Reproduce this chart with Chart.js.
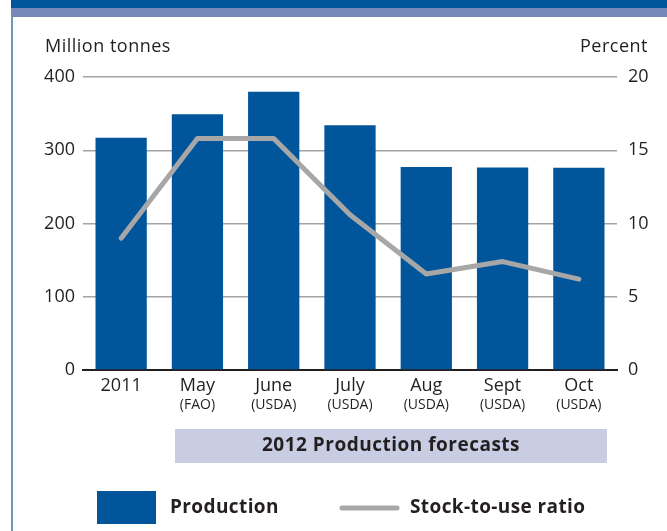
<!DOCTYPE html>
<html>
<head>
<meta charset="utf-8">
<script src="https://cdn.jsdelivr.net/npm/chart.js@4/dist/chart.umd.min.js"></script>
<style>
  html, body { margin: 0; padding: 0; background: #fff; }
  #wrap { position: relative; width: 667px; height: 531px; }
</style>
</head>
<body>
<div id="wrap"><canvas id="prodChart" width="667" height="531"></canvas></div>
<script>
const months = ['2011', 'May', 'June', 'July', 'Aug', 'Sept', 'Oct'];
const sources = ['', '(FAO)', '(USDA)', '(USDA)', '(USDA)', '(USDA)', '(USDA)'];
const production = [317, 349, 380, 334, 277, 276.5, 276];
const stockToUse = [9.0, 15.8, 15.8, 10.6, 6.55, 7.4, 6.2];

const blue = '#00559b';
const grey = '#a7a7a7';
const ink = '#231f20';
const font = '"Open Sans", "Noto Sans", sans-serif';

// frame, headings, forecast box, legend and the small source line under each month
const decor = {
  id: 'decor',
  beforeDraw: (chart) => {
    const ctx = chart.ctx;
    ctx.save();
    ctx.fillStyle = '#fff';
    ctx.fillRect(0, 0, chart.width, chart.height);
    ctx.fillStyle = blue;
    ctx.fillRect(11, 0, chart.width - 11, 8);
    ctx.fillStyle = '#7688b8';
    ctx.fillRect(11, 8, chart.width - 11, 9);
    ctx.fillStyle = '#6f99bd';
    ctx.fillRect(11, 17, 2, chart.height - 17);
    ctx.restore();
  },
  afterDraw: (chart) => {
    const ctx = chart.ctx;
    const x = chart.scales.x;
    ctx.save();
    ctx.fillStyle = ink;
    ctx.textBaseline = 'middle';

    ctx.font = '18px ' + font;
    ctx.letterSpacing = '0.5px';
    ctx.textAlign = 'left';
    ctx.fillText('Million tonnes', 45, 47);
    ctx.textAlign = 'right';
    ctx.fillText('Percent', 648, 47);

    ctx.font = '14px ' + font;
    ctx.letterSpacing = '0px';
    ctx.textAlign = 'center';
    sources.forEach((s, i) => {
      ctx.fillText(s, x.getPixelForValue(i), 405);
    });

    // forecast band
    ctx.fillStyle = '#c9cde3';
    ctx.fillRect(175, 429, 432, 34);
    ctx.fillStyle = ink;
    ctx.font = 'bold 19px ' + font;
    ctx.letterSpacing = '0.5px';
    ctx.fillText('2012 Production forecasts', 391, 446);

    // legend
    const ds = chart.data.datasets;
    ctx.fillStyle = ds[1].backgroundColor;
    ctx.fillRect(97, 491, 59, 33);
    ctx.fillStyle = ink;
    ctx.textAlign = 'left';
    ctx.font = 'bold 19px ' + font;
    ctx.letterSpacing = '0.4px';
    ctx.fillText(ds[1].label, 170, 508);
    ctx.strokeStyle = ds[0].borderColor;
    ctx.lineWidth = 5;
    ctx.lineCap = 'round';
    ctx.beginPath();
    ctx.moveTo(342, 508);
    ctx.lineTo(397, 508);
    ctx.stroke();
    ctx.fillText(ds[0].label, 410, 508);
    ctx.restore();
  }
};

const ctx = document.getElementById('prodChart').getContext('2d');
const chart = new Chart(ctx, {
  data: {
    labels: months,
    datasets: [
      {
        type: 'line',
        label: 'Stock-to-use ratio',
        data: stockToUse,
        yAxisID: 'y2',
        borderColor: grey,
        borderWidth: 5,
        borderCapStyle: 'round',
        borderJoinStyle: 'round',
        pointRadius: 0,
        tension: 0,
        order: 0
      },
      {
        type: 'bar',
        label: 'Production',
        data: production,
        yAxisID: 'y',
        backgroundColor: blue,
        borderWidth: 0,
        barPercentage: 0.672,
        categoryPercentage: 1,
        order: 1
      }
    ]
  },
  options: {
    responsive: false,
    animation: false,
    events: [],
    layout: { padding: { top: 77, bottom: 0, left: 0, right: 0 } },
    plugins: {
      legend: { display: false },
      tooltip: { enabled: false }
    },
    scales: {
      x: {
        grid: { display: false, drawTicks: false },
        border: { display: true, color: ink, width: 2 },
        ticks: { color: ink, font: { family: font, size: 18 }, padding: 5, maxRotation: 0, autoSkip: false },
        afterFit: (s) => { s.height = 161; }
      },
      y: {
        position: 'left',
        min: 0,
        max: 400,
        ticks: { stepSize: 100, color: ink, font: { family: font, size: 18 }, padding: 8 },
        grid: { color: '#a3a3a3', lineWidth: 1.5, drawTicks: false },
        border: { display: false },
        afterFit: (s) => { s.width = 83; }
      },
      y2: {
        position: 'right',
        min: 0,
        max: 20,
        ticks: { stepSize: 5, color: ink, font: { family: font, size: 18 }, padding: 11 },
        grid: { drawOnChartArea: false, drawTicks: false },
        border: { display: false },
        afterFit: (s) => { s.width = 50; }
      }
    }
  },
  plugins: [decor]
});
</script>
</body>
</html>
